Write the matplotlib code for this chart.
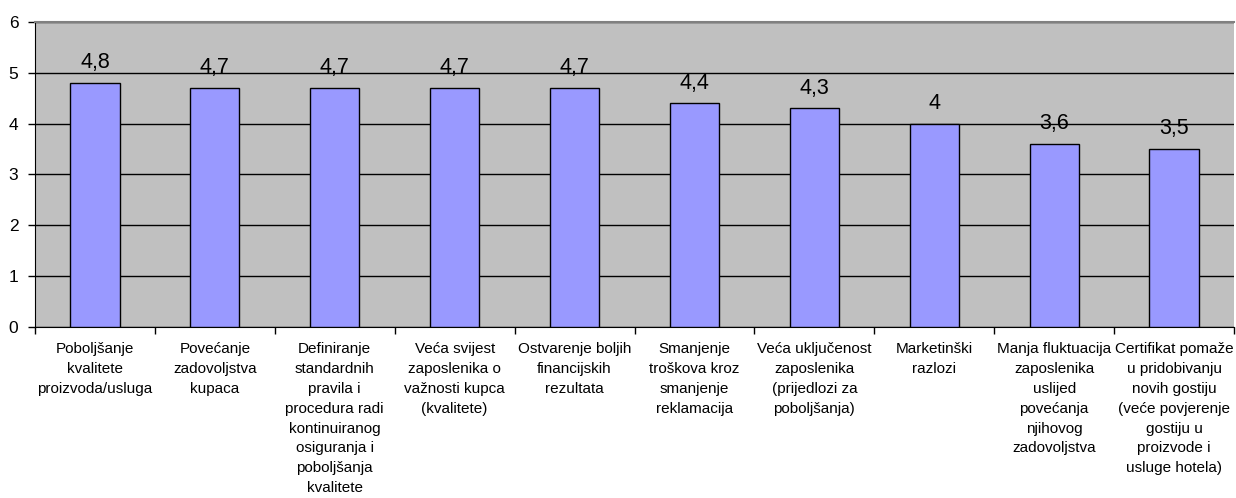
import matplotlib.pyplot as plt
import numpy as np

plt.rcParams['font.family'] = ['Liberation Sans', 'DejaVu Sans']

categories = [
    'Poboljšanje\nkvalitete\nproizvoda/usluga',
    'Povećanje\nzadovoljstva\nkupaca',
    'Definiranje\nstandardnih\npravila i\nprocedura radi\nkontinuiranog\nosiguranja i\npoboljšanja\nkvalitete',
    'Veća svijest\nzaposlenika o\nvažnosti kupca\n(kvalitete)',
    'Ostvarenje boljih\nfinancijskih\nrezultata',
    'Smanjenje\ntroškova kroz\nsmanjenje\nreklamacija',
    'Veća uključenost\nzaposlenika\n(prijedlozi za\npoboljšanja)',
    'Marketinški\nrazlozi',
    'Manja fluktuacija\nzaposlenika\nuslijed\npovećanja\nnjihovog\nzadovoljstva',
    'Certifikat pomaže\nu pridobivanju\nnovih gostiju\n(veće povjerenje\ngostiju u\nproizvode i\nusluge hotela)',
]
values = [4.8, 4.7, 4.7, 4.7, 4.7, 4.4, 4.3, 4.0, 3.6, 3.5]
value_labels = ['4,8', '4,7', '4,7', '4,7', '4,7', '4,4', '4,3', '4', '3,6', '3,5']

fig = plt.figure(figsize=(12.36, 4.98), dpi=100)
ax = fig.add_axes([0.0283, 0.3434, 0.9701, 0.6124])
ax.set_facecolor('#C0C0C0')

x = np.arange(len(values))
ax.bar(x, values, width=0.41, color='#9999FF', edgecolor='black', linewidth=1, zorder=3)

# value labels above each bar
for xi, v, lab in zip(x, values, value_labels):
    ax.annotate(lab, (xi, v), xytext=(0, 7), textcoords='offset points',
                ha='center', va='bottom', fontsize=15.5)

ax.set_xlim(-0.5, len(values) - 0.5)
ax.set_ylim(0, 6)
ax.set_yticks(range(0, 7))
ax.yaxis.grid(True, color='black', linewidth=1, zorder=1)
ax.set_axisbelow(True)

ax.set_xticks(x)
ax.set_xticklabels(categories, fontsize=11, linespacing=1.53)
ax.set_xticks(np.arange(-0.5, len(values)), minor=True)
ax.tick_params(axis='x', which='major', length=0, pad=11)
ax.tick_params(axis='x', which='minor', length=5, width=1, color='black')
ax.tick_params(axis='y', length=5, width=1, pad=7, labelsize=12.5)

ax.spines['top'].set_color('#808080')
ax.spines['top'].set_linewidth(1.5)
ax.spines['right'].set_visible(False)
ax.spines['left'].set_color('black')
ax.spines['bottom'].set_color('black')

fig.savefig('out.png', dpi=100)
